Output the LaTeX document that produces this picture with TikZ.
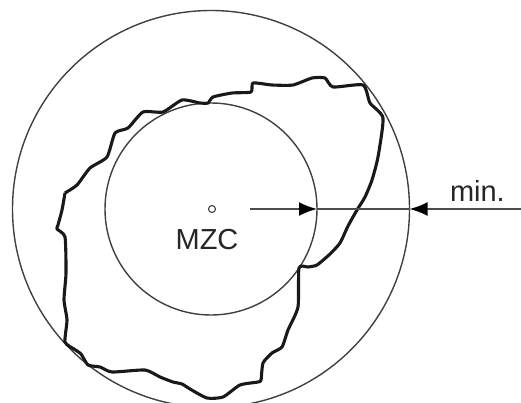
\documentclass[tikz,border=0pt]{standalone}
\usepackage{fontspec}
\setmainfont{Liberation Sans}
\usetikzlibrary{positioning,arrows.meta}

\begin{document}
\begin{tikzpicture}[x=1pt,y=-1pt,
		ring/.style={circle,draw=black!75,line width=1.4pt,inner sep=0pt,outer sep=0pt},
		label/.style={inner sep=0pt,text=black!85,font=\fontsize{29}{30}\selectfont},
		contour/.style={line width=3.1pt,black!90,line join=round},
		gauge/.style={line width=1.9pt,black!70,-{Latex[length=18pt,width=14pt,black]}}]
	\useasboundingbox (0,0) rectangle (521,403);
	\clip (0,0) rectangle (521,403);
		% Circles
		\node[ring,minimum size=397pt] (outer) at (211,209) {};
		\node[ring,minimum size=212pt] (inner) at (211,209) {};
		\node[ring,minimum size=7pt,line width=1.1pt] (centre) at (212,209) {};
		\node[label,below=17pt of centre,xshift=-5pt] (mzc) {MZC};
		% Outline of the part
		\draw[contour] plot[smooth,tension=0.35] coordinates {
			(65,193) (62,210) (58,225) (57,229) (65,237) (66,273) (64,300) (67,320) (65,342)
			(74,349) (81,354) (88,365) (100,367) (112,372) (145,370) (160,377) (173,382) (182,384)
			(190,389) (207,398) (223,397) (240,385) (258,382) (261,380) (263,363) (272,353)
			(282,347) (288,330) (298,307) (299,268) (308,267) (317,265) (330,254) (340,243) (348,226)
			(357,210) (365,197) (372,180) (378,157) (383,118) (370,103) (363,85) (333,87) (325,78) (312,78)
			(293,85) (272,85) (253,83) (251,92) (232,93) (213,97) (208,103) (200,103) (182,100) (163,112)
			(143,112) (128,128) (115,133) (107,157) (90,168) (77,185) (65,193)};
		% Gauge line
		\coordinate (gaugestart) at (250,209);
		\coordinate (gaugeend) at (521,209);
		\draw[gauge] (gaugestart) -- (inner.east);
		\draw[gauge] (gaugeend) -- (outer.east);
		\draw[gauge,-] (inner.east) -- (outer.east);
		\node[label,above left=7pt and 16pt of gaugeend] (minlabel) {min.};
\end{tikzpicture}
\end{document}
